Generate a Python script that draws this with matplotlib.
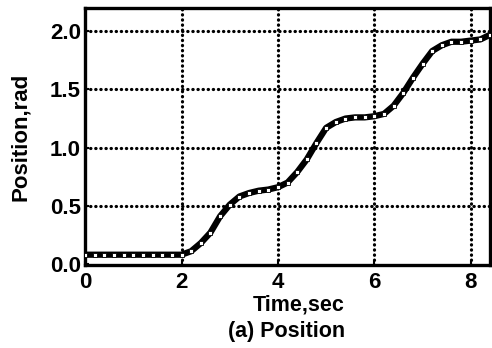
import numpy as np
import matplotlib
matplotlib.use("Agg")
import matplotlib.pyplot as plt

# 時間 [sec] と 位置 [rad]
t_time = [0.0, 0.2, 0.4, 0.6, 0.8, 1.0, 1.2, 1.4, 1.6, 1.8, 2.0,
          2.2, 2.4, 2.6, 2.8, 3.0, 3.2, 3.4, 3.6, 3.8, 4.0,
          4.2, 4.4, 4.6, 4.8, 5.0, 5.2, 5.4, 5.6, 5.8, 6.0,
          6.2, 6.4, 6.6, 6.8, 7.0, 7.2, 7.4, 7.6, 7.8, 8.0,
          8.2, 8.4]
t_position = [0.08, 0.08, 0.08, 0.08, 0.08, 0.08, 0.08, 0.08, 0.08, 0.08, 0.08,
              0.11, 0.18, 0.27, 0.41, 0.51, 0.58, 0.61, 0.63, 0.64, 0.66,
              0.70, 0.79, 0.90, 1.04, 1.17, 1.22, 1.25, 1.26, 1.26, 1.27,
              1.29, 1.36, 1.47, 1.60, 1.72, 1.83, 1.88, 1.91, 1.91, 1.92,
              1.93, 1.97]

x_ticks = [0, 2, 4, 6, 8]
y_ticks = [0.0, 0.5, 1.0, 1.5, 2.0]
y_ticklabels = ["0.0", "0.5", "1.0", "1.5", "2.0"]

plt.rcParams["font.family"] = ["Liberation Sans", "DejaVu Sans"]
plt.rcParams["font.weight"] = "bold"

fig = plt.figure(figsize=(4.92, 3.48), dpi=100)
ax = fig.add_axes([0.173, 0.238, 0.823, 0.739])

ax.set_xlim(0.0, 8.4)
ax.set_ylim(-0.01, 2.2)

# グリッド(点線)
for xv in x_ticks[1:]:
    ax.axvline(xv, color="black", lw=2.3, linestyle=(0, (0.1, 1.5)),
               dash_capstyle="round", zorder=1)
for yv in y_ticks[1:]:
    ax.axhline(yv, color="black", lw=2.3, linestyle=(0, (0.1, 1.5)),
               dash_capstyle="round", zorder=1)

ax.plot(t_time, t_position, color="black", lw=4.5, zorder=3)
ax.plot(t_time, t_position, linestyle="none", marker="s", ms=2.6,
        mfc="white", mec="black", mew=0.6, zorder=4)

ax.set_xticks(x_ticks)
ax.set_yticks(y_ticks)
ax.set_yticklabels(y_ticklabels)
ax.tick_params(direction="in", length=3, width=1.5, labelsize=16)
ax.tick_params(axis="x", pad=5)
ax.tick_params(axis="y", pad=3)
for lbl in ax.get_xticklabels() + ax.get_yticklabels():
    lbl.set_fontweight("bold")

for sp in ax.spines.values():
    sp.set_linewidth(2.4)

ax.set_ylabel("Position,rad", fontsize=16, fontweight="bold", labelpad=14)
ax.set_xlabel("Time,sec", fontsize=15.5, fontweight="bold", labelpad=3)
ax.xaxis.set_label_coords(0.527, -0.115)
fig.text(287 / 492, 1 - 332 / 348, "(a) Position", fontsize=15.5,
         fontweight="bold", ha="center", va="center")

plt.savefig("out.png", format="png", dpi=100)
plt.close()
